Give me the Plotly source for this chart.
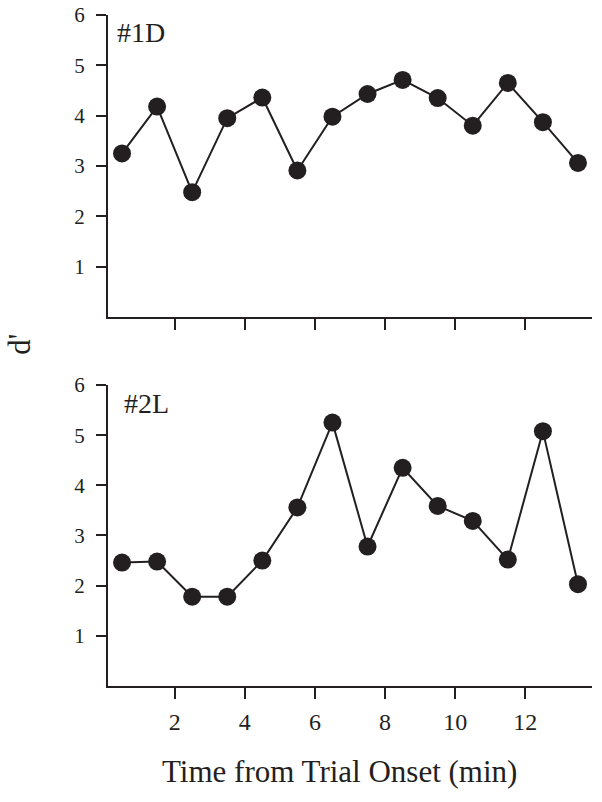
import plotly.graph_objects as go
from plotly.subplots import make_subplots

# time bins (min)
time_min = [0.5, 1.5, 2.5, 3.5, 4.5, 5.5, 6.5, 7.5, 8.5, 9.5, 10.5, 11.5, 12.5, 13.5]
# d' for each animal
d_1D = [3.25, 4.18, 2.48, 3.95, 4.36, 2.91, 3.98, 4.43, 4.71, 4.35, 3.80, 4.65, 3.87, 3.06]
d_2L = [2.46, 2.48, 1.78, 1.78, 2.50, 3.56, 5.25, 2.78, 4.35, 3.59, 3.29, 2.52, 5.08, 2.03]
panel_labels = ["#1D", "#2L"]
x_ticks = [2, 4, 6, 8, 10, 12]
y_ticks = [1, 2, 3, 4, 5, 6]

INK = "#231f20"
FONT = "Liberation Serif, Times New Roman, serif"

fig = make_subplots(rows=2, cols=1, vertical_spacing=0.1)

for i, vals in enumerate([d_1D, d_2L]):
    fig.add_trace(go.Scatter(
        x=time_min, y=vals,
        mode="lines+markers",
        line=dict(color=INK, width=2),
        marker=dict(color=INK, size=18),
        showlegend=False
    ), row=i + 1, col=1)

axis_style = dict(
    showline=True, linecolor=INK, linewidth=2,
    ticks="outside", tickcolor=INK, tickwidth=2,
    showgrid=False, zeroline=False, automargin=False,
    ticklabeloverflow="allow",
)
for r in (1, 2):
    fig.update_xaxes(range=[0.1, 13.9], tickvals=x_ticks, ticklen=11,
                     showticklabels=(r == 2), ticklabelstandoff=2,
                     tickfont=dict(family=FONT, size=24, color=INK),
                     row=r, col=1, **axis_style)
    fig.update_yaxes(range=[0, 6], tickvals=y_ticks, ticklen=10,
                     ticklabelstandoff=7,
                     tickfont=dict(family=FONT, size=21, color=INK),
                     row=r, col=1, **axis_style)

fig.update_layout(
    width=602, height=802,
    margin=dict(l=108, r=10, t=15, b=116),
    plot_bgcolor="white", paper_bgcolor="white",
    yaxis=dict(domain=[0.55, 1.0]),
    yaxis2=dict(domain=[0.0, 0.4486]),
    font=dict(family=FONT, color=INK)
)

# panel labels
fig.add_annotation(text=panel_labels[0], xref="x domain", yref="y domain",
                   x=0.015, y=1.0, xanchor="left", yanchor="top",
                   showarrow=False, font=dict(family=FONT, size=28, color=INK))
fig.add_annotation(text=panel_labels[1], xref="x2 domain", yref="y2 domain",
                   x=0.028, y=0.997, xanchor="left", yanchor="top",
                   showarrow=False, font=dict(family=FONT, size=28, color=INK))

# shared axis titles
fig.add_annotation(text="d'", xref="paper", yref="paper", x=-0.182, y=0.51,
                   xanchor="center", yanchor="middle",
                   textangle=-90, showarrow=False,
                   font=dict(family=FONT, size=31, color=INK))
fig.add_annotation(text="Time from Trial Onset (min)", xref="paper", yref="paper",
                   x=0.479, y=-0.128, xanchor="center", yanchor="middle",
                   showarrow=False, font=dict(family=FONT, size=31, color=INK))

# drop the default 8px body margin so the figure fills the window
fig.write_html("out.html", config={"displayModeBar": False},
               post_script="document.body.style.margin='0';")
